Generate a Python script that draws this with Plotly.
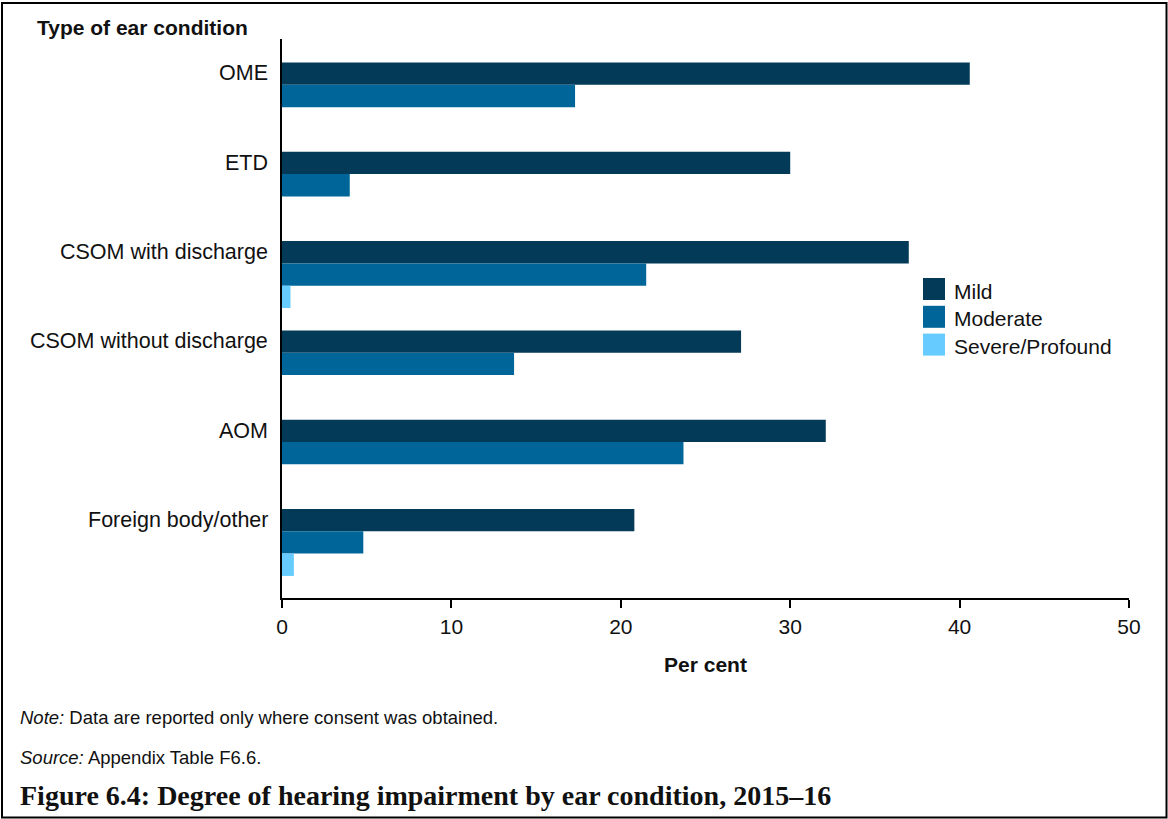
import plotly.graph_objects as go

categories = ["OME", "ETD", "CSOM with discharge", "CSOM without discharge", "AOM", "Foreign body/other"]
series_names = ["Mild", "Moderate", "Severe/Profound"]
mild = [40.6, 30.0, 37.0, 27.1, 32.1, 20.8]
moderate = [17.3, 4.0, 21.5, 13.7, 23.7, 4.8]
severe = [None, None, 0.5, None, None, 0.7]
x_ticks = [0, 10, 20, 30, 40, 50]
colors = ["#033A57", "#006699", "#66CCFF"]

W, H = 1168, 819
L, R, T, B = 282, 39, 39, 221
PW, PH = W - L - R, H - T - B


def px2x(px):
    return (px - L) / PW


def py2y(py):
    return (H - B - py) / PH


FONT = "Liberation Sans, Arial, sans-serif"
SERIF = "Liberation Serif, Times New Roman, serif"

fig = go.Figure()
for name, vals, col in zip(series_names, [mild, moderate, severe], colors):
    fig.add_trace(go.Bar(
        y=categories, x=vals, name=name, orientation="h",
        marker=dict(color=col, line=dict(width=0)),
        showlegend=False,
    ))

fig.update_layout(
    width=W, height=H,
    margin=dict(l=L, r=R, t=T, b=B, autoexpand=False),
    paper_bgcolor="white", plot_bgcolor="white",
    barmode="group", bargap=0.25, bargroupgap=0,
    font=dict(family=FONT, size=21, color="#111111"),
    xaxis=dict(
        range=[0, 50], tickmode="array", tickvals=x_ticks,
        ticktext=[str(v) for v in x_ticks],
        showgrid=False, zeroline=False, showline=True,
        linecolor="black", linewidth=1.5,
        ticks="outside", ticklen=8, tickwidth=1.5, tickcolor="black",
        tickfont=dict(family=FONT, size=21, color="#111111"),
        ticklabelstandoff=1,
        title=dict(text="<b>Per cent</b>", font=dict(family=FONT, size=21, color="#111111"), standoff=20),
    ),
    yaxis=dict(
        type="category", categoryorder="array", categoryarray=categories,
        range=[5.622, -0.638],
        showgrid=False, zeroline=False, showline=True,
        linecolor="black", linewidth=1.5,
        ticks="", showticklabels=False,
    ),
)

annotations = []
# category labels aligned with the first (Mild) bar of each group
for c in categories:
    annotations.append(dict(
        xref="paper", yref="y", x=0, y=c, xanchor="right", yanchor="middle",
        xshift=-12, yshift=22.5, showarrow=False, text=c,
        font=dict(family=FONT, size=21.5, color="#111111"),
    ))

annotations.append(dict(
    xref="paper", yref="paper", x=px2x(35), y=py2y(27), xanchor="left", yanchor="middle",
    showarrow=False, text="<b>Type of ear condition</b>",
    font=dict(family=FONT, size=21, color="#111111"),
))

# manual legend with large swatches
shapes = []
for i, (name, col) in enumerate(zip(series_names, colors)):
    top = 278 + i * 27.8
    shapes.append(dict(
        type="rect", xref="paper", yref="paper",
        x0=px2x(923), x1=px2x(945), y0=py2y(top + 22), y1=py2y(top),
        fillcolor=col, line=dict(width=0),
    ))
    annotations.append(dict(
        xref="paper", yref="paper", x=px2x(952), y=py2y(top + 13), xanchor="left", yanchor="middle",
        showarrow=False, text=name, font=dict(family=FONT, size=21, color="#111111"),
    ))

annotations.append(dict(
    xref="paper", yref="paper", x=px2x(18), y=py2y(717), xanchor="left", yanchor="middle",
    showarrow=False, text="<i>Note:</i> Data are reported only where consent was obtained.",
    font=dict(family=FONT, size=18.5, color="#111111"),
))
annotations.append(dict(
    xref="paper", yref="paper", x=px2x(18), y=py2y(757), xanchor="left", yanchor="middle",
    showarrow=False, text="<i>Source:</i> Appendix Table F6.6.",
    font=dict(family=FONT, size=18.5, color="#111111"),
))
annotations.append(dict(
    xref="paper", yref="paper", x=px2x(18), y=py2y(796), xanchor="left", yanchor="middle",
    showarrow=False, text="<b>Figure 6.4: Degree of hearing impairment by ear condition, 2015\u201316</b>",
    font=dict(family=SERIF, size=28, color="#111111"),
))

# outer frame
shapes.append(dict(
    type="rect", xref="paper", yref="paper",
    x0=px2x(2), x1=px2x(1166.5), y0=py2y(817.5), y1=py2y(3),
    line=dict(color="black", width=2), fillcolor="rgba(0,0,0,0)",
))

fig.update_layout(annotations=annotations, shapes=shapes)
fig.write_html(
    "out.html",
    config={"displayModeBar": False},
    post_script="document.body.style.margin='0';document.body.style.padding='0';document.body.style.overflow='hidden';",
)
